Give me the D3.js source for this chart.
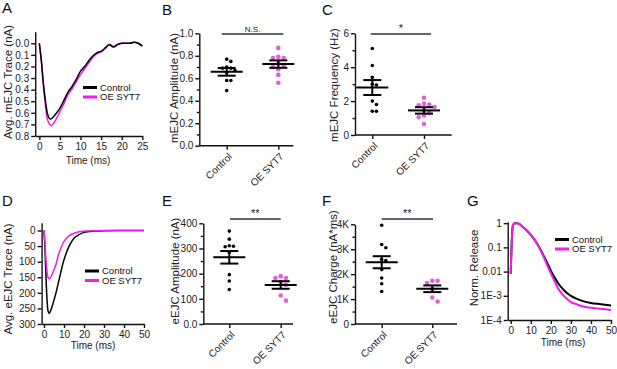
<!DOCTYPE html>
<html>
<head>
<meta charset="utf-8">
<script src="https://cdn.jsdelivr.net/npm/d3@7"></script>
<style>
	body { margin: 0; background: #fff; }
	svg { font-family: "Liberation Sans", Arial, sans-serif; }
	.axis path, .axis line { stroke: #111; stroke-width: 1.4; }
	.axis text { font-size: 10px; fill: #222; }
	.title { font-size: 11.5px; fill: #222; }
	.xtitle { font-size: 10px; fill: #222; }
	.letter { font-size: 15px; fill: #111; }
	.legend { font-size: 9.5px; fill: #111; }
</style>
</head>
<body>
<div id="chart"></div>
<script>

// ---- data ----
const groups = ["Control", "OE SYT7"];

// A: average mEJC trace (nA)
const mejcTime = [0, 0.5, 1, 1.5, 2, 2.5, 3, 3.5, 4, 5, 6, 7, 8, 9, 10, 11, 12, 13, 14, 15, 16, 17, 18, 19, 20, 21, 22, 23, 24, 25];
const mejcControl = [0, 0.15, 0.35, 0.5, 0.61, 0.65, 0.65, 0.63, 0.61, 0.56, 0.49, 0.42, 0.37, 0.31, 0.24, 0.2, 0.15, 0.11, 0.08, 0.07, 0.04, 0.01, 0.03, 0.01, 0.0, 0.0, 0.0, -0.01, 0.0, 0.025];
const mejcOE = [0, 0.16, 0.37, 0.54, 0.66, 0.70, 0.71, 0.69, 0.66, 0.59, 0.52, 0.44, 0.39, 0.33, 0.27, 0.22, 0.17, 0.12, 0.09, 0.075, 0.045, 0.015, 0.035, 0.01, 0.0, 0.0, 0.0, -0.01, 0.0, 0.025];

// B: mEJC amplitude (nA)
const ampControl = [0.77, 0.75, 0.70, 0.69, 0.69, 0.67, 0.65, 0.58, 0.58, 0.49];
const ampOE = [0.87, 0.79, 0.78, 0.78, 0.73, 0.71, 0.70, 0.68, 0.63, 0.56];
const ampMean = [0.657, 0.726];
const ampSem = [0.034, 0.033];

// C: mEJC frequency (Hz)
const freqControl = [5.1, 4.1, 3.4, 3.0, 2.95, 2.0, 1.8, 1.4, 1.4];
const freqOE = [2.2, 1.85, 1.8, 1.75, 1.65, 1.45, 1.3, 1.15, 1.05, 0.65];
const freqMean = [2.8, 1.45];
const freqSem = [0.44, 0.19];

// D: average eEJC trace (nA)
const ejcTime = [0, 0.5, 1, 1.5, 2, 2.5, 3, 4, 5, 6, 7.5, 9, 10, 12.5, 15, 17.5, 20, 25, 30, 40, 50];
const ejcControl = [0, 60, 150, 220, 258, 266, 262, 245, 223, 200, 159, 118, 94, 51, 25, 13, 6, 2, 0.5, 0, 0];
const ejcOE = [0, 40, 95, 130, 150, 155, 153, 142, 126, 108, 73, 48, 35, 17, 9, 4, 2, 0.5, 0, 0, 0];

// E: eEJC amplitude (nA)
const eampControl = [369, 337, 311, 309, 307, 284, 196, 171, 137];
const eampOE = [190, 183, 183, 167, 156, 113, 93];
const eampMean = [265, 155];
const eampSem = [25, 15];

// F: eEJC charge (nA*ms)
const chargeControl = [3960, 3190, 3057, 2586, 2545, 2182, 1845, 1616, 1306];
const chargeOE = [1737, 1737, 1643, 1400, 1064, 902];
const chargeMean = [2478, 1414];
const chargeSem = [242, 135];

// G: normalised release (log)
const relTime = [0, 0.4, 0.8, 1.2, 2, 3, 4, 6, 8, 10, 12, 14, 16, 18, 20, 22, 24, 26, 28, 30, 33, 36, 40, 45, 50];
const relControl = [0.008, 0.1, 0.5, 0.85, 0.99, 1.0, 0.95, 0.7, 0.5, 0.33, 0.2, 0.11, 0.052, 0.025, 0.011, 0.0055, 0.003, 0.0019, 0.0013, 0.001, 0.00075, 0.0006, 0.0005, 0.00045, 0.0004];
const relOE = [0.008, 0.1, 0.5, 0.85, 0.99, 1.0, 0.95, 0.7, 0.5, 0.33, 0.2, 0.105, 0.048, 0.02, 0.0085, 0.0038, 0.0018, 0.0011, 0.00075, 0.00055, 0.00044, 0.00036, 0.00032, 0.00029, 0.00026];
const relTickVals = [1, 0.1, 0.01, 1e-3, 1e-4];
const relTickLabels = ["1", "0.1", "0.01", "1E-3", "1E-4"];

const black = "#000";
const magenta = "#f01cf0";
const pink = "#e15fd9";

const svg = d3.select("#chart").append("svg")
	.attr("width", 617)
	.attr("height", 369);

function letter(txt, x, y) {
	svg.append("text").attr("class", "letter").attr("x", x).attr("y", y).text(txt);
}

function yTitle(txt, x, y) {
	svg.append("text").attr("class", "title")
		.attr("transform", "translate(" + x + "," + y + ") rotate(-90)")
		.attr("text-anchor", "middle")
		.attr("dy", "0.35em")
		.text(txt);
}

function legend(x, y, entries) {
	entries.forEach((e, i) => {
		svg.append("line")
			.attr("x1", x).attr("x2", x + 14)
			.attr("y1", y + i * 9.5).attr("y2", y + i * 9.5)
			.attr("stroke", e.color).attr("stroke-width", 3);
		svg.append("text").attr("class", "legend")
			.attr("x", x + 17).attr("y", y + i * 9.5)
			.attr("dy", "0.33em")
			.text(e.label);
	});
}

/*
 * trace panel: time on x, current on y (A, D, G)
 */
function tracePanel(cfg) {
	const x = d3.scaleLinear().domain(cfg.xDomain).range(cfg.xRange);
	const y = (cfg.log ? d3.scaleLog() : d3.scaleLinear()).domain(cfg.yDomain).range(cfg.yRange);
	const bottom = d3.max(cfg.yRange);

	const yAx = d3.axisLeft(y).tickValues(cfg.yTicks).tickSize(4).tickPadding(2).tickSizeOuter(0);
	if (cfg.yFormat) yAx.tickFormat(cfg.yFormat);
	svg.append("g").attr("class", "axis")
		.attr("transform", "translate(" + cfg.xRange[0] + ",0)")
		.call(yAx);

	svg.append("g").attr("class", "axis")
		.attr("transform", "translate(0," + bottom + ")")
		.call(d3.axisBottom(x).tickValues(cfg.xTicks).tickSize(4).tickSizeOuter(0));

	const line = d3.line()
		.x((d, i) => x(cfg.time[i]))
		.y(d => y(d))
		.curve(cfg.log ? d3.curveMonotoneX : d3.curveCatmullRom);

	cfg.series.forEach(s => {
		svg.append("path")
			.datum(s.values)
			.attr("fill", "none")
			.attr("stroke", s.color)
			.attr("stroke-width", cfg.lineWidth || 1.5)
			.attr("d", line);
	});

	svg.append("text").attr("class", "xtitle")
		.attr("x", cfg.xTitlePos[0]).attr("y", cfg.xTitlePos[1])
		.attr("text-anchor", "middle")
		.text("Time (ms)");
}

/*
 * simple beeswarm so overlapping points get pushed sideways
 */
function swarm(values, y, r) {
	const placed = [];
	const step = r * 2.3;
	const cands = [0, step, -step, 2 * step, -2 * step, 3 * step, -3 * step];
	return values.map(v => {
		const py = y(v);
		let dx = 0;
		for (const c of cands) {
			if (placed.every(p => Math.hypot(p.dx - c, p.py - py) >= r * 2.2)) { dx = c; break; }
		}
		placed.push({dx: dx, py: py});
		return {dx: dx, py: py};
	});
}

/*
 * scatter panel: two groups with mean +/- SEM (B, C, E, F)
 */
function scatterPanel(cfg) {
	const y = d3.scaleLinear().domain(cfg.yDomain).range(cfg.yRange);
	const x = d3.scalePoint().domain(groups).range(cfg.xPos);

	svg.append("g").attr("class", "axis")
		.attr("transform", "translate(" + cfg.axisX + ",0)")
		.call(d3.axisLeft(y).tickValues(cfg.minorTicks).tickSize(2.5).tickFormat(""))
		.select(".domain").remove();

	const yAx = d3.axisLeft(y).tickValues(cfg.yTicks).tickSize(4).tickPadding(2).tickSizeOuter(0)
		.tickFormat(cfg.yFormat || d3.format("d"));
	svg.append("g").attr("class", "axis")
		.attr("transform", "translate(" + cfg.axisX + ",0)")
		.call(yAx);

	const xg = svg.append("g").attr("class", "axis")
		.attr("transform", "translate(0," + cfg.yRange[0] + ")")
		.call(d3.axisBottom(x).tickSize(4).tickSizeOuter(0));
	xg.select(".domain").remove();
	xg.append("line")
		.attr("x1", cfg.axisX).attr("x2", cfg.axisEnd)
		.attr("y1", 0).attr("y2", 0);
	xg.selectAll(".tick text")
		.attr("text-anchor", "end")
		.attr("dy", "0.35em")
		.attr("y", 0)
		.attr("transform", "translate(3,9) rotate(-45)");

	const sets = [
		{values: cfg.control, color: black, r: 1.8},
		{values: cfg.oe, color: pink, r: 2.3}
	];
	sets.forEach((s, gi) => {
		const cx = x(groups[gi]);
		const pos = swarm(s.values, y, s.r);
		svg.selectAll(null)
			.data(pos)
			.enter()
			.append("circle")
			.attr("cx", d => cx + d.dx)
			.attr("cy", d => d.py)
			.attr("r", s.r)
			.attr("fill", s.color);

		const m = cfg.mean[gi], e = cfg.sem[gi];
		const g = svg.append("g").attr("stroke", black).attr("stroke-width", 2);
		g.append("line").attr("x1", cx - 16).attr("x2", cx + 16).attr("y1", y(m)).attr("y2", y(m));
		g.append("line").attr("x1", cx - 9).attr("x2", cx + 9).attr("y1", y(m + e)).attr("y2", y(m + e));
		g.append("line").attr("x1", cx - 9).attr("x2", cx + 9).attr("y1", y(m - e)).attr("y2", y(m - e));
		g.append("line").attr("x1", cx).attr("x2", cx).attr("y1", y(m + e)).attr("y2", y(m - e));
	});

	// significance bar
	svg.append("line")
		.attr("x1", cfg.sig.x1).attr("x2", cfg.sig.x2)
		.attr("y1", cfg.sig.y).attr("y2", cfg.sig.y)
		.attr("stroke", "#333").attr("stroke-width", 1.3);
	svg.append("text")
		.attr("x", (cfg.sig.x1 + cfg.sig.x2) / 2).attr("y", cfg.sig.y - 2)
		.attr("text-anchor", "middle")
		.style("font-size", cfg.sig.size + "px")
		.attr("fill", "#222")
		.text(cfg.sig.label);
}

// ---- A ----
letter("A", 2, 13);
tracePanel({
	xDomain: [-1, 25], xRange: [35.2, 142.3],
	yDomain: [-0.1, 0.8], yRange: [31.7, 136],
	xTicks: d3.range(0, 26, 5),
	yTicks: d3.range(0, 0.81, 0.1),
	yFormat: d3.format(".1f"),
	time: mejcTime,
	series: [{values: mejcOE, color: magenta}, {values: mejcControl, color: black}],
	xTitlePos: [88, 164]
});
yTitle("Avg. mEJC Trace (nA)", 8, 82);
legend(83, 87.5, [{label: "Control", color: black}, {label: "OE SYT7", color: magenta}]);

// ---- B ----
letter("B", 162, 15);
scatterPanel({
	axisX: 199.3, axisEnd: 293.3,
	yDomain: [0, 1], yRange: [145.7, 33.3],
	yTicks: d3.range(0, 1.01, 0.2), minorTicks: d3.range(0.1, 1, 0.2),
	yFormat: d3.format(".1f"),
	xPos: [226.7, 278.3],
	control: ampControl, oe: ampOE, mean: ampMean, sem: ampSem,
	sig: {x1: 221.7, x2: 283.3, y: 34, label: "N.S.", size: 8}
});
yTitle("mEJC Amplitude (nA)", 174, 88);

// ---- C ----
letter("C", 322, 15);
scatterPanel({
	axisX: 355, axisEnd: 451.7,
	yDomain: [0, 6], yRange: [135, 33.3],
	yTicks: [0, 2, 4, 6], minorTicks: [1, 3, 5],
	xPos: [372.3, 424],
	control: freqControl, oe: freqOE, mean: freqMean, sem: freqSem,
	sig: {x1: 370.7, x2: 431, y: 34, label: "*", size: 11}
});
yTitle("mEJC Frequency (Hz)", 334, 85);

// ---- D ----
letter("D", 2, 206);
tracePanel({
	xDomain: [-1.2, 50], xRange: [41.6, 144],
	yDomain: [-25, 300], yRange: [222.7, 324],
	xTicks: d3.range(0, 51, 10),
	yTicks: d3.range(0, 301, 50),
	time: ejcTime,
	series: [{values: ejcControl, color: black}, {values: ejcOE, color: magenta}],
	xTitlePos: [93, 349]
});
yTitle("Avg. eEJC Trace (nA)", 8, 279);
legend(85, 271, [{label: "Control", color: black}, {label: "OE SYT7", color: magenta}]);

// ---- E ----
letter("E", 162, 206);
scatterPanel({
	axisX: 203.3, axisEnd: 293,
	yDomain: [0, 400], yRange: [324, 223.3],
	yTicks: [0, 100, 200, 300, 400], minorTicks: [50, 150, 250, 350],
	yFormat: d => d === 0 ? "0.0" : d,
	xPos: [229.3, 280.7],
	control: eampControl, oe: eampOE, mean: eampMean, sem: eampSem,
	sig: {x1: 230, x2: 280.7, y: 219, label: "**", size: 11}
});
yTitle("eEJC Amplitude (nA)", 175, 271);

// ---- F ----
letter("F", 322, 206);
scatterPanel({
	axisX: 355, axisEnd: 457,
	yDomain: [0, 4000], yRange: [324, 224.3],
	yTicks: [0, 1000, 2000, 3000, 4000], minorTicks: [500, 1500, 2500, 3500],
	yFormat: d => d === 0 ? "0" : (d / 1000) + "K",
	xPos: [381.7, 432.3],
	control: chargeControl, oe: chargeOE, mean: chargeMean, sem: chargeSem,
	sig: {x1: 381.7, x2: 433, y: 219, label: "**", size: 11}
});
yTitle("eEJC Charge (nA*ms)", 333, 267);

// ---- G ----
letter("G", 467, 206);
tracePanel({
	log: true,
	xDomain: [-1.5, 50], xRange: [507.7, 611],
	yDomain: [1e-4, 1.15], yRange: [320, 221.7],
	xTicks: d3.range(0, 51, 10),
	yTicks: relTickVals,
	yFormat: (d, i) => relTickLabels[i],
	time: relTime,
	series: [{values: relControl, color: black}, {values: relOE, color: magenta}],
	lineWidth: 2,
	xTitlePos: [563, 346]
});
yTitle("Norm. Release", 474, 268);
legend(555, 239.5, [{label: "Control", color: black}, {label: "OE SYT7", color: magenta}]);

</script>
</body>
</html>
